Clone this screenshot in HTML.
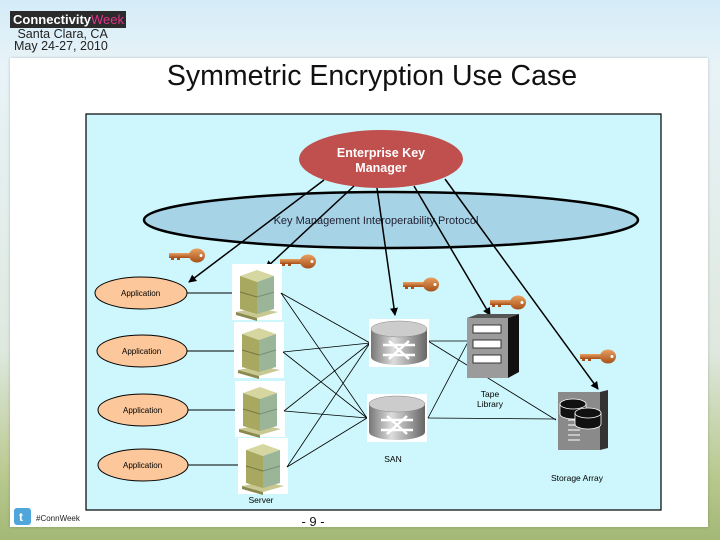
<!DOCTYPE html>
<html><head><meta charset="utf-8"><style>
html,body{margin:0;padding:0}
body{width:720px;height:540px;overflow:hidden;position:relative;font-family:"Liberation Sans",sans-serif;
background:linear-gradient(180deg,#d4ecf7 0%,#e8f3f8 12%,#dfe8df 65%,#b9c98f 88%,#a3b877 100%);}
.card{position:absolute;left:10px;top:58px;width:698px;height:469px;background:#fff;box-shadow:0 0 3px rgba(0,0,0,.2)}
.logo{position:absolute;left:10px;top:11px;width:116px;height:17px;background:#2b2b2b;color:#fff;font-weight:bold;font-size:13px;line-height:17px;padding-left:3px;box-sizing:border-box;white-space:nowrap}
.logo span{color:#e0338a;font-weight:normal}
.sub{position:absolute;left:14px;top:28px;font-size:12.5px;line-height:12px;color:#222}
.title{position:absolute;left:0;width:744px;top:60px;text-align:center;font-size:28.5px;color:#111}
</style></head><body>
<div class="logo">Connectivity<span>Week</span></div>
<div class="sub">&nbsp;Santa Clara, CA<br>May 24-27, 2010</div>
<div class="card"></div>
<div class="title">Symmetric Encryption Use Case</div>
<svg width="720" height="540" style="position:absolute;left:0;top:0" font-family="Liberation Sans, sans-serif">
<defs>
<marker id="ah" markerWidth="8" markerHeight="8" refX="7" refY="4" orient="auto" markerUnits="userSpaceOnUse"><path d="M0,0 L8,4 L0,8 z" fill="#000"/></marker>
<linearGradient id="rg" x1="0" x2="1"><stop offset="0" stop-color="#777"/><stop offset=".4" stop-color="#ddd"/><stop offset="1" stop-color="#666"/></linearGradient>
<linearGradient id="kg" x1="0" y1="0" x2="0" y2="1"><stop offset="0" stop-color="#e8a060"/><stop offset="1" stop-color="#a8501a"/></linearGradient>
<g id="srv">
<rect x="0" y="0" width="50" height="56" fill="#fff"/>
<polygon points="4,48 25,54 46,48 25,44" fill="#c8c890"/>
<polygon points="4,48 4,51 25,57 25,54" fill="#8a8a50"/>
<polygon points="8,12 25,6 42,12 25,18" fill="#d6d6a0"/>
<polygon points="8,12 25,18 25,50 8,45" fill="#a8a860"/>
<polygon points="25,18 42,12 42,45 25,50" fill="#9ab598"/>
<line x1="8" y1="28" x2="25" y2="33" stroke="#777740"/>
<line x1="25" y1="33" x2="42" y2="28" stroke="#7a9078"/>
</g>
<g id="rtr">
<rect x="0" y="0" width="60" height="48" fill="#fff"/>
<path d="M2,10 L2,38 A28,8 0 0 0 58,38 L58,10 z" fill="url(#rg)"/>
<ellipse cx="30" cy="10" rx="28" ry="8" fill="#ccc" stroke="#888" stroke-width=".5"/>
<path d="M20,22 L40,40 M40,22 L20,40 M14,26 L46,26 M14,36 L46,36" stroke="#fff" stroke-width="2.5"/>
</g>
<g id="key">
<rect x="0" y="3" width="24" height="5" fill="url(#kg)"/>
<rect x="2" y="7" width="3" height="3" fill="#a8501a"/><rect x="8" y="7" width="3" height="3" fill="#a8501a"/>
<ellipse cx="28" cy="5.5" rx="8" ry="7" fill="url(#kg)"/>
<circle cx="32" cy="5.5" r="1.5" fill="#fff"/>
</g>
</defs>
<rect x="86" y="114" width="575" height="396" fill="#cdf7fc" stroke="#000" stroke-width="1.2"/>
<ellipse cx="391" cy="220" rx="247" ry="28" fill="#a6d3e6" stroke="#000" stroke-width="2.5"/>
<text x="376" y="224" font-size="11" text-anchor="middle" fill="#223">Key Management Interoperability Protocol</text>
<ellipse cx="381" cy="159" rx="82" ry="29" fill="#c0504d"/>
<text x="381" y="157" font-size="12.5" font-weight="bold" fill="#fff" text-anchor="middle">Enterprise Key</text>
<text x="381" y="172" font-size="12.5" font-weight="bold" fill="#fff" text-anchor="middle">Manager</text>
<g stroke="#000" stroke-width="1.5" marker-end="url(#ah)">
<line x1="324" y1="180" x2="189" y2="282"/>
<line x1="354" y1="186" x2="266" y2="268"/>
<line x1="377" y1="188" x2="395" y2="315"/>
<line x1="414" y1="186" x2="490" y2="315"/>
<line x1="445" y1="179" x2="598" y2="389"/>
</g>
<g fill="#fcc79a" stroke="#000" stroke-width="1">
<ellipse cx="141" cy="293" rx="46" ry="16"/><ellipse cx="142" cy="351" rx="45" ry="16"/>
<ellipse cx="143" cy="410" rx="45" ry="16"/><ellipse cx="143" cy="465" rx="45" ry="16"/>
</g>
<g font-size="8" fill="#000"><text x="121" y="296">Application</text><text x="122" y="354">Application</text><text x="123" y="413">Application</text><text x="123" y="468">Application</text></g>
<g stroke="#000" stroke-width="1">
<line x1="187" y1="293" x2="237" y2="293"/><line x1="187" y1="351" x2="238" y2="351"/>
<line x1="188" y1="410" x2="239" y2="410"/><line x1="188" y1="465" x2="240" y2="465"/>
</g>
<use href="#srv" x="232" y="264"/><use href="#srv" x="234" y="322"/><use href="#srv" x="235" y="381"/><use href="#srv" x="238" y="438"/>
<g stroke="#000" stroke-width=".8">
<line x1="281" y1="293" x2="370" y2="343"/><line x1="281" y1="293" x2="367" y2="418"/>
<line x1="283" y1="352" x2="370" y2="343"/><line x1="283" y1="352" x2="367" y2="418"/>
<line x1="284" y1="411" x2="370" y2="343"/><line x1="284" y1="411" x2="367" y2="418"/>
<line x1="287" y1="467" x2="370" y2="343"/><line x1="287" y1="467" x2="367" y2="418"/>
<line x1="428" y1="341" x2="467" y2="341"/><line x1="428" y1="341" x2="556" y2="420"/>
<line x1="428" y1="418" x2="556" y2="419"/><line x1="428" y1="418" x2="469" y2="340"/>
</g>
<use href="#rtr" x="369" y="319"/><use href="#rtr" x="367" y="394"/>
<text x="393" y="462" font-size="8.5" text-anchor="middle">SAN</text>
<text x="261" y="503" font-size="8.5" text-anchor="middle">Server</text>
<rect x="467" y="318" width="41" height="60" fill="#9b9b9b"/>
<polygon points="508,318 519,314 519,372 508,378" fill="#111"/><polygon points="467,318 478,314 519,314 508,318" fill="#555"/>
<g fill="#fff" stroke="#333"><rect x="473" y="325" width="28" height="8"/><rect x="473" y="340" width="28" height="8"/><rect x="473" y="355" width="28" height="8"/></g>
<text x="490" y="397" font-size="8.5" text-anchor="middle">Tape</text><text x="490" y="407" font-size="8.5" text-anchor="middle">Library</text>
<rect x="558" y="392" width="42" height="58" fill="#8a8a8a"/><polygon points="600,392 608,390 608,448 600,450" fill="#333"/>
<g stroke="#fff" stroke-width="1"><line x1="568" y1="420" x2="580" y2="420"/><line x1="568" y1="425" x2="580" y2="425"/><line x1="568" y1="430" x2="580" y2="430"/><line x1="568" y1="435" x2="580" y2="435"/><line x1="568" y1="440" x2="580" y2="440"/></g>
<g fill="#111" stroke="#fff" stroke-width=".8"><path d="M560,404 v10 a13,5 0 0 0 26,0 v-10 z"/><ellipse cx="573" cy="404" rx="13" ry="5"/><path d="M575,413 v11 a13,5 0 0 0 26,0 v-11 z"/><ellipse cx="588" cy="413" rx="13" ry="5"/></g>
<text x="577" y="481" font-size="8.5" text-anchor="middle">Storage Array</text>
<use href="#key" x="169" y="250"/><use href="#key" x="280" y="256"/><use href="#key" x="403" y="279"/><use href="#key" x="490" y="297"/><use href="#key" x="580" y="351"/>
<rect x="14" y="508" width="17" height="17" rx="3" fill="#4ea6da"/><text x="19" y="521" font-size="12" font-weight="bold" fill="#fff">t</text>
<text x="36" y="521" font-size="8" fill="#222">#ConnWeek</text>
<text x="313" y="526" font-size="13" fill="#111" text-anchor="middle">- 9 -</text>
</svg>
</body></html>
